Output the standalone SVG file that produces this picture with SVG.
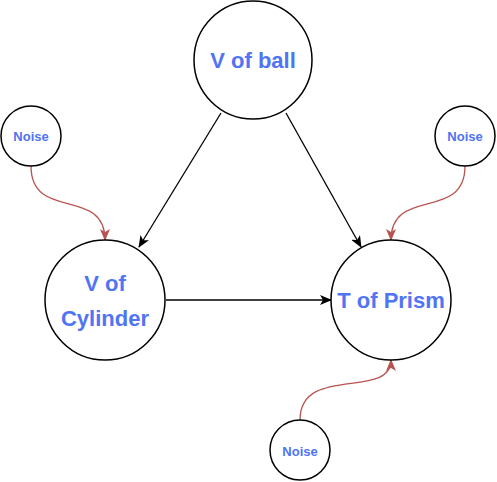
<svg xmlns="http://www.w3.org/2000/svg" width="497" height="482" viewBox="0 0 497 482">
<defs>
<style>
.node circle{fill:#fff;stroke:#000;stroke-width:1.5}
.lbl{font-family:"Liberation Sans",Arial,sans-serif;font-weight:bold;fill:#4f74f4;text-anchor:middle}
.big{font-size:22px}
.small{font-size:13px}
.edge{fill:none;stroke:#000;stroke-width:1.3}
.noise{fill:none;stroke:#b85450;stroke-width:1.3}
</style>
<marker id="ab" viewBox="0 0 12 10" refX="11" refY="5" markerWidth="12" markerHeight="10" markerUnits="userSpaceOnUse" orient="auto">
<path d="M0,0 L12,5 L0,10 L3,5 Z" fill="#000"/>
</marker>
<marker id="ar" viewBox="0 0 12 10" refX="11" refY="5" markerWidth="12" markerHeight="10" markerUnits="userSpaceOnUse" orient="auto">
<path d="M0,0 L12,5 L0,10 L3,5 Z" fill="#b85450"/>
</marker>
</defs>
<g id="connectors">
<line class="edge" x1="221" y1="113" x2="139" y2="247" marker-end="url(#ab)"/>
<line class="edge" x1="286" y1="113" x2="361" y2="247" marker-end="url(#ab)"/>
<line class="edge" x1="166" y1="300" x2="331" y2="300" marker-end="url(#ab)"/>
<path class="noise" d="M31,166 C31,222 105,186 105,240" marker-end="url(#ar)"/>
<path class="noise" d="M465,166 C465,222 391,186 391,240" marker-end="url(#ar)"/>
<path class="noise" d="M300,420 C300,364 391,400 391,360" marker-end="url(#ar)"/>
</g>
<g id="v-ball" class="node"><circle cx="253" cy="60" r="59"/><text class="lbl big" x="253" y="68">V of ball</text></g>
<g id="noise-left" class="node"><circle cx="31" cy="136" r="30"/><text class="lbl small" x="31" y="141">Noise</text></g>
<g id="noise-right" class="node"><circle cx="465" cy="136" r="30"/><text class="lbl small" x="465" y="141">Noise</text></g>
<g id="v-cylinder" class="node"><circle cx="105" cy="300" r="60"/><text class="lbl big" x="105" y="291">V of</text><text class="lbl big" x="105" y="326">Cylinder</text></g>
<g id="t-prism" class="node"><circle cx="391" cy="300" r="60"/><text class="lbl big" x="391" y="308">T of Prism</text></g>
<g id="noise-bottom" class="node"><circle cx="300" cy="450" r="30"/><text class="lbl small" x="300" y="456">Noise</text></g>
</svg>
